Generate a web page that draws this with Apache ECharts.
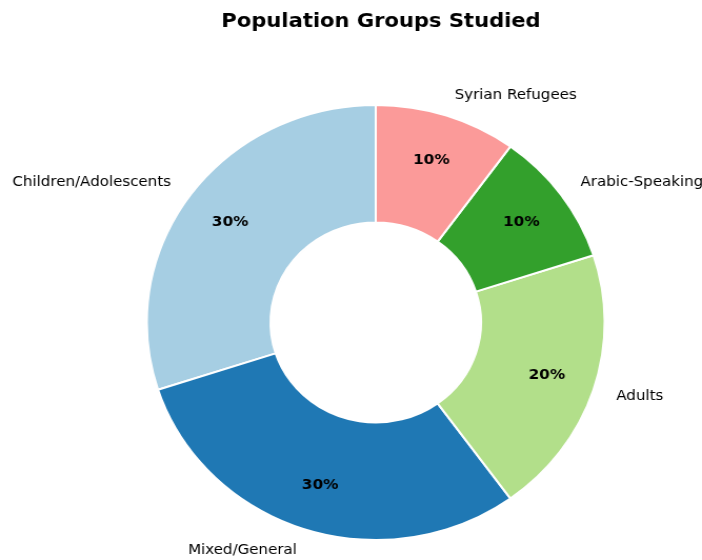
<!DOCTYPE html>
<html>
<head>
<meta charset="utf-8">
<script src="https://cdn.jsdelivr.net/npm/echarts@6/dist/echarts.min.js"></script>
<style>
  html, body { margin: 0; padding: 0; background: #ffffff; overflow: hidden; }
  /* the figure is drawn slightly narrower and widened to fill the 702px frame */
  #chart { width: 667px; height: 560px; transform: scaleX(1.0525); transform-origin: 0 0; }
</style>
</head>
<body>
<div id="chart"></div>
<script>
const categories = ['Children/Adolescents', 'Mixed/General', 'Adults', 'Arabic-Speaking', 'Syrian Refugees'];
const shares = [30, 30, 20, 10, 10];
const colors = ['#a6cee3', '#1f78b4', '#b2df8a', '#33a02c', '#fb9a99'];
const titleText = 'Population Groups Studied';

const FONT = 'DejaVu Sans';
const center = [357, 322.5];
const outerR = 217.5;
const innerR = 100;

const sliceData = categories.map((name, i) => ({
  name: name,
  value: shares[i],
  itemStyle: { color: colors[i] }
}));

const chart = echarts.init(document.getElementById('chart'), null, { renderer: 'canvas' });

chart.setOption({
  backgroundColor: '#ffffff',
  animation: false,
  title: {
    text: titleText,
    left: 357,
    top: 7,
    textAlign: 'center',
    textStyle: { fontFamily: FONT, fontSize: 20, fontWeight: 'bold', color: '#000000' }
  },
  series: [
    {
      // the ring itself, with category names just outside it
      type: 'pie',
      center: center,
      radius: [innerR, outerR],
      startAngle: 90,
      clockwise: false,
      avoidLabelOverlap: false,
      silent: true,
      itemStyle: { borderColor: '#ffffff', borderWidth: 2 },
      label: {
        show: true,
        position: 'outside',
        formatter: '{b}',
        fontFamily: FONT,
        fontSize: 14.3,
        color: '#000000',
        distanceToLabelLine: 1
      },
      labelLine: { show: false, length: outerR * 0.1, length2: 0 },
      data: sliceData
    },
    {
      // percentage labels placed inside each slice
      type: 'pie',
      center: center,
      radius: [165, 171],
      startAngle: 90,
      clockwise: false,
      silent: true,
      percentPrecision: 0,
      itemStyle: { color: 'rgba(0,0,0,0)' },
      label: {
        show: true,
        position: 'inside',
        formatter: '{d}%',
        fontFamily: FONT,
        fontSize: 14.5,
        fontWeight: 'bold',
        color: '#000000'
      },
      labelLine: { show: false },
      data: categories.map((name, i) => ({ name: name, value: shares[i] }))
    }
  ]
});
</script>
</body>
</html>
